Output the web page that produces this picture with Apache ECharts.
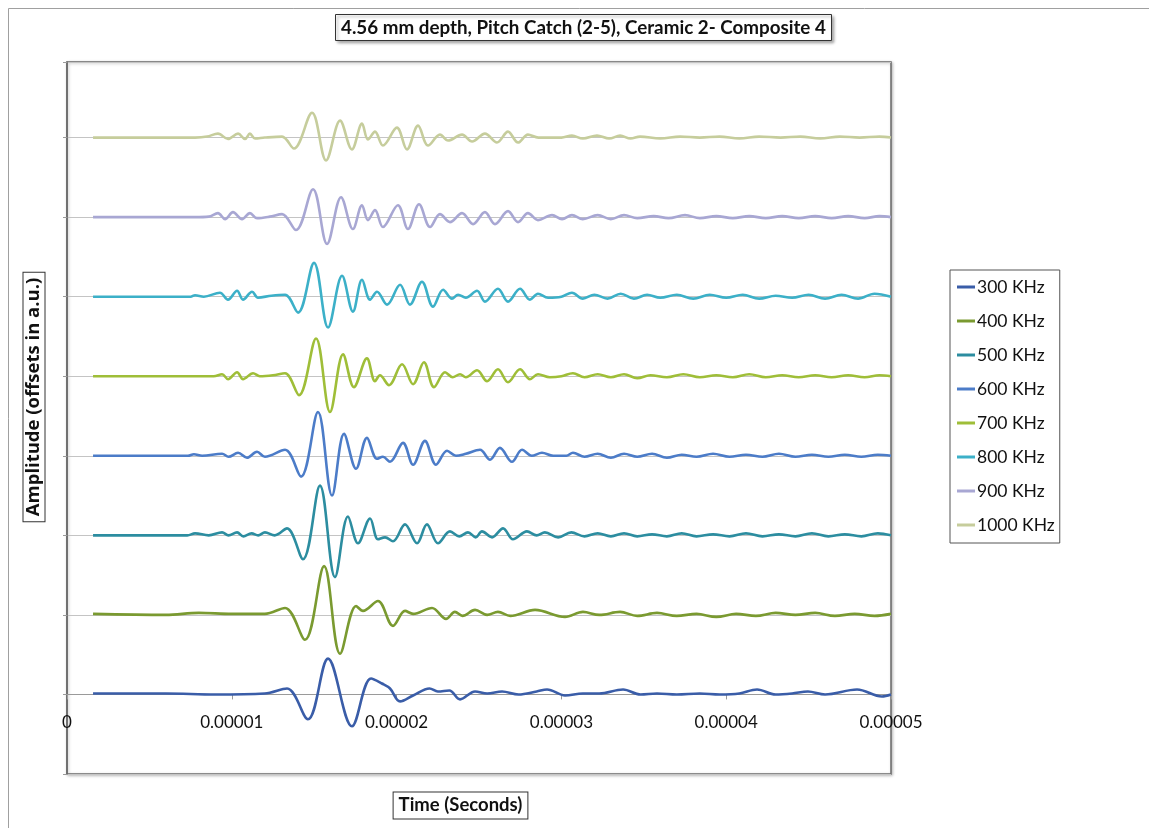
<!DOCTYPE html>
<html>
<head>
<meta charset="utf-8">
<script src="https://cdn.jsdelivr.net/npm/echarts@6/dist/echarts.min.js"></script>
<style>html,body{margin:0;padding:0;background:#fff}#c{width:1149px;height:828px}</style>
</head>
<body>
<div id="c"></div>
<script>
// Series names (bottom to top)
const seriesNames = ['300 KHz','400 KHz','500 KHz','600 KHz','700 KHz','800 KHz','900 KHz','1000 KHz'];
const seriesColors = ['#3A5DA8','#7A9A30','#2C8DA0','#4C7CC8','#9FBE38','#3CB0C8','#A8A7D3','#C6CD9C'];
// vertical offset between traces (a.u.)
const OFFSET = 80;
// x tick labels (seconds)
const xTickLabels = ['0','0.00001','0.00002','0.00003','0.00004','0.00005'];

// Waveforms: [time in microseconds, amplitude in a.u.]
const w300 = [[1.58,1],[6.0,1],[9.0,0],[12.0,1],[13.35,6],[14.62,-25],[15.84,36],[17.29,-32],[18.45,16],[19.11,11],[19.60,6],[20.21,-7],[21.0,-1],[22.0,6],[22.5,3],[23.2,4],[23.85,-5],[24.76,3],[25.5,1],[26.40,3],[27.4,0],[28.5,3],[29.13,5],[30.22,-1],[31.3,1],[32.3,1],[33.74,5],[34.8,0],[35.8,1],[37.0,0],[38.4,1],[39.6,0],[40.8,1],[41.87,5],[43.0,0],[44.0,1],[44.96,3],[46.0,0],[47.94,5],[49.45,-2],[50,0]];
const w400 = [[1.58,1],[6.0,0],[8.0,2],[10.0,1],[12.0,1],[13.23,7],[14.44,-25],[15.60,49],[16.57,-39],[17.54,9],[17.96,4],[18.87,14],[19.78,-11],[20.51,4],[21.0,1],[22.15,7],[23.0,-4],[23.54,3],[24.0,-1],[24.76,5],[25.5,0],[26.15,3],[26.9,-1],[28.40,5],[30.22,-2],[31.31,3],[32.3,0],[33.56,3],[34.6,-1],[35.8,2],[37.0,-1],[38.2,1],[39.4,-2],[40.6,1],[41.8,-1],[43.0,2],[44.2,0],[45.4,2],[46.6,-1],[47.8,1],[49.0,-1],[50,1]];
const w500 = [[1.58,0],[7.3,0],[7.77,2],[8.6,0],[9.41,3],[9.8,0],[10.32,3],[10.7,-1],[11.2,2],[11.6,0],[12.01,3],[12.6,0],[13.35,7],[14.32,-24],[15.35,50],[16.26,-42],[17.05,19],[17.66,-8],[18.39,17],[18.87,-4],[19.30,-2],[19.78,-6],[20.51,11],[21.24,-8],[21.84,11],[22.51,-8],[23.24,4],[23.8,-1],[24.33,3],[24.8,-2],[25.18,4],[25.79,-2],[26.46,7],[27.06,-4],[27.91,4],[28.5,0],[29.0,3],[29.8,-2],[30.6,3],[31.4,-1],[32.2,2],[33.0,-1],[33.8,2],[34.6,-1],[35.5,1],[36.4,-1],[37.3,2],[38.2,-1],[39.2,1],[40.2,-1],[41.2,2],[42.2,-1],[43.2,1],[44.2,-1],[45.2,2],[46.2,-1],[47.2,1],[48.2,-1],[49.2,2],[50,0]];
const w600 = [[1.58,0],[7.34,0],[7.7,1.5],[8.2,0],[9.41,2],[9.8,-1],[10.38,3],[10.92,-2],[11.53,4],[12.01,-1],[13.23,6],[14.20,-21],[15.23,44],[16.08,-40],[16.81,22],[17.54,-13],[18.20,18],[18.81,-3],[19.17,-1],[19.60,-6],[20.39,13],[21.00,-9],[21.72,15],[22.39,-9],[23.06,5],[23.6,0],[24.2,2],[25.06,6],[25.67,-4],[26.27,8],[27.00,-6],[27.61,6],[28.2,0],[28.82,3],[29.5,0],[30.3,0],[30.7,3],[31.4,-1],[32.2,2],[33.0,-2],[33.8,2],[34.6,-1],[35.5,2],[36.4,-2],[37.3,1],[38.2,-1],[39.2,2],[40.2,-1],[41.2,1],[42.2,-1],[43.2,2],[44.2,-1],[45.2,1],[46.2,-1],[47.2,1],[48.2,-1],[49.2,1],[50,0]];
const w700 = [[1.58,0],[8.9,0],[9.41,2],[9.77,-3],[10.32,4],[10.68,-3],[11.29,3],[11.7,0],[12.5,1],[13.23,3],[14.08,-19],[15.11,38],[15.96,-36],[16.75,22],[17.41,-11],[18.20,18],[18.69,-5],[18.99,1],[19.54,-9],[20.33,12],[21.00,-8],[21.66,14],[22.27,-11],[22.94,4],[23.4,-1],[23.85,2],[24.2,-1],[24.88,6],[25.49,-5],[26.15,7],[26.76,-6],[27.49,7],[28.09,-3],[28.58,2],[29.3,-1],[30.0,0],[30.70,3],[31.4,-1],[32.2,2],[33.0,-1],[33.8,2],[34.6,-2],[35.4,1],[36.4,-1],[37.4,2],[38.4,-1],[39.4,1],[40.4,-1],[41.4,2],[42.4,-1],[43.4,1],[44.4,-1],[45.4,1],[46.4,-1],[47.4,1],[48.4,-1],[49.3,1],[50,0]];
const w800 = [[1.58,0],[7.5,0],[7.77,1.5],[8.3,0],[9.28,4],[9.77,-3],[10.32,6],[10.68,-3],[11.23,5],[11.59,-1],[12.4,1],[13.23,2],[14.02,-16],[14.99,34],[15.84,-31],[16.69,21],[17.35,-15],[17.90,17],[18.39,-3],[18.81,5],[19.42,-8],[20.21,12],[20.81,-8],[21.54,15],[22.21,-10],[22.82,7],[23.36,-2],[23.73,2],[24.2,-1],[24.88,6],[25.36,-5],[26.15,8],[26.76,-5],[27.49,8],[28.09,-3],[28.58,3],[29.19,-1],[30.0,0],[30.64,4],[31.3,-2],[32.0,2],[32.8,-2],[33.6,3],[34.4,-2],[35.2,2],[36.0,-1],[37.0,2],[38.0,-2],[39.0,2],[40.0,-1],[41.0,2],[42.0,-2],[43.0,1],[44.0,-1],[45.0,2],[46.0,-2],[47.0,2],[48.0,-2],[49.0,3],[50,0]];
const w900 = [[1.58,0],[7.77,0],[8.6,0.5],[9.16,4],[9.59,-2],[10.07,5],[10.62,-2],[11.10,4],[11.53,-1],[12.3,0.5],[13.05,3],[13.90,-13],[14.93,28],[15.78,-27],[16.63,20],[17.35,-12],[17.90,12],[18.26,-3],[18.69,7],[19.17,-10],[20.08,12],[20.69,-12],[21.36,13],[22.03,-10],[22.63,3],[23.24,-5],[23.97,4],[24.64,-7],[25.36,5],[25.97,-7],[26.76,6],[27.37,-5],[27.97,4],[28.58,-3],[29.43,2],[30.04,-2],[30.64,2],[31.3,-2],[32.2,2],[33.0,-2],[33.8,2],[34.6,-1],[35.6,1],[36.5,-1],[37.5,2],[38.4,-1],[39.4,1],[40.4,-1],[41.4,1],[42.4,-1],[43.4,1],[44.4,-1],[45.4,1],[46.4,-1],[47.4,1],[48.4,-1],[49.3,1],[50,0]];
const w1000 = [[1.58,0],[7.77,0],[8.5,1],[9.16,4],[9.77,-1.5],[10.38,4],[10.80,-1.5],[11.10,4],[11.41,-1],[12.0,0],[13.05,1],[13.77,-11],[14.87,25],[15.72,-23],[16.57,17],[17.29,-12],[17.90,14],[18.26,-2],[18.69,6],[19.17,-8],[20.02,10],[20.63,-12],[21.30,12],[21.91,-8],[22.63,3],[23.12,-3],[23.97,3],[24.58,-4],[25.36,4],[26.09,-5],[26.76,6],[27.37,-5],[27.97,3],[28.6,0],[30.0,0],[30.64,2],[31.3,-1],[32.16,2],[32.9,-1],[33.56,2],[34.2,-1],[34.77,1],[36.0,-1],[37.2,1],[38.4,0],[39.6,1],[40.8,-1],[42.0,1],[43.3,0],[44.5,1],[45.7,-1],[46.9,1],[48.1,0],[49.3,1],[50,0]];

const waves = [w300, w400, w500, w600, w700, w800, w900, w1000];

const FONT = 'Lato, "Open Sans", sans-serif';
const Y_MIN = -OFFSET, Y_MAX = 636;
const GRID_TOP = 62, GRID_BOTTOM = 54, CH = 828;

const series = waves.map((w, i) => ({
  name: seriesNames[i],
  type: 'line',
  data: w.map(p => [p[0] * 1e-6, p[1] + i * OFFSET]),
  smooth: 0.35,
  symbol: 'none',
  showSymbol: false,
  lineStyle: { width: 2.6, color: seriesColors[i] },
  itemStyle: { color: seriesColors[i] },
  z: 10 - i,
  animation: false
}));

// place the x axis line at amplitude 0 (baseline of the lowest trace)
const gridH = CH - GRID_TOP - GRID_BOTTOM;
const zeroOffset = -gridH * (0 - Y_MIN) / (Y_MAX - Y_MIN);

const chart = echarts.init(document.getElementById('c'), null, { renderer: 'canvas' });
chart.setOption({
  animation: false,
  backgroundColor: '#fff',
  title: {
    text: '4.56 mm depth, Pitch Catch (2-5), Ceramic 2- Composite 4',
    left: 335, top: 14,
    padding: [4, 6, 4, 6],
    borderColor: '#333', borderWidth: 1,
    backgroundColor: '#fff',
    shadowBlur: 3, shadowColor: 'rgba(0,0,0,0.35)', shadowOffsetX: 2, shadowOffsetY: 2,
    textStyle: { fontFamily: FONT, fontSize: 18.8, fontWeight: 'bold', color: '#111' }
  },
  grid: {
    left: 67, right: 258, top: GRID_TOP, bottom: GRID_BOTTOM,
    show: true, borderColor: '#6a6a6a', borderWidth: 1.5,
    shadowBlur: 3, shadowColor: 'rgba(0,0,0,0.25)', shadowOffsetX: 1, shadowOffsetY: 1,
    backgroundColor: '#fff'
  },
  legend: {
    orient: 'vertical', left: 950, top: 270,
    data: seriesNames,
    icon: 'rect',
    itemWidth: 18, itemHeight: 3, itemGap: 14,
    padding: [7, 5, 8, 7],
    borderColor: '#555', borderWidth: 1,
    backgroundColor: '#fff',
    textStyle: { fontFamily: FONT, fontSize: 17.5, lineHeight: 20, color: '#111', padding: [0, 0, 0, -3] }
  },
  xAxis: {
    type: 'value', min: 0, max: 5e-5, interval: 1e-5,
    position: 'bottom', offset: zeroOffset,
    axisLine: { onZero: false, lineStyle: { color: '#9a9a9a', width: 1 } },
    axisTick: { show: true, length: 5, lineStyle: { color: '#9a9a9a' } },
    splitLine: { show: false },
    axisLabel: {
      margin: 20, fontFamily: FONT, fontSize: 17, color: '#111',
      formatter: v => xTickLabels[Math.round(v / 1e-5)]
    }
  },
  yAxis: {
    type: 'value', min: Y_MIN, max: Y_MAX, interval: OFFSET,
    axisLine: { show: true, onZero: false, lineStyle: { color: '#6a6a6a', width: 1.5 } },
    axisTick: { show: true, length: 4, lineStyle: { color: '#9a9a9a' } },
    axisLabel: { show: false },
    splitLine: { show: true, lineStyle: { color: '#c4c4c4', width: 1 } }
  },
  graphic: [
    { type: 'rect', silent: true, z: -10,
      shape: { x: 8.5, y: 8.5, width: 1160, height: 840 },
      style: { fill: 'none', stroke: '#a0a0a0', lineWidth: 1 } },
    { type: 'text', x: 460.5, y: 805.5, z: 100,
      style: { text: 'Time (Seconds)', font: 'bold 18.5px ' + FONT, fill: '#111',
        textAlign: 'center', textVerticalAlign: 'middle',
        backgroundColor: '#fff', borderColor: '#333', borderWidth: 1, padding: [4, 5, 3, 5] } },
    { type: 'text', x: 34, y: 397, rotation: Math.PI / 2, z: 100,
      style: { text: 'Amplitude (offsets in a.u.)', font: 'bold 18.5px "Open Sans", sans-serif', fill: '#111',
        textAlign: 'center', textVerticalAlign: 'middle',
        backgroundColor: '#fff', borderColor: '#333', borderWidth: 1, padding: [1, 5, 1, 5] } }
  ],
  series: series
});
</script>
</body>
</html>
